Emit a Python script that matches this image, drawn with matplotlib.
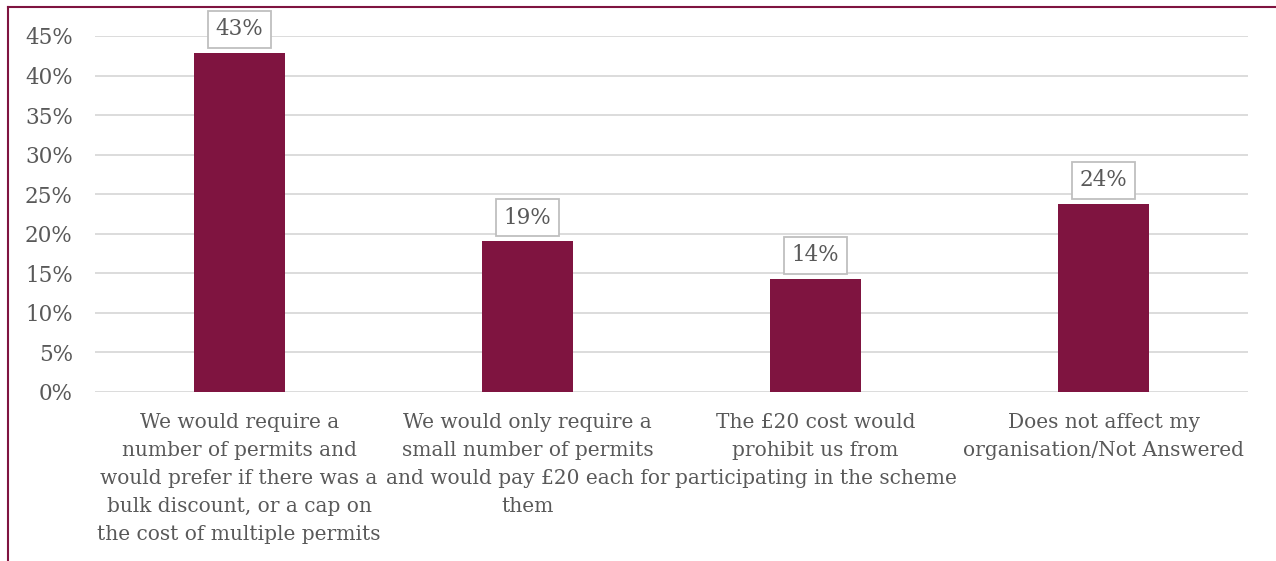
import matplotlib.pyplot as plt
from matplotlib.lines import Line2D

# survey responses on the £20 permit cost (share of respondents)
categories = [
    "We would require a\nnumber of permits and\nwould prefer if there was a\nbulk discount, or a cap on\nthe cost of multiple permits",
    "We would only require a\nsmall number of permits\nand would pay £20 each for\nthem",
    "The £20 cost would\nprohibit us from\nparticipating in the scheme",
    "Does not affect my\norganisation/Not Answered",
]
shares = [42.86, 19.05, 14.29, 23.81]
yticks = [0, 5, 10, 15, 20, 25, 30, 35, 40, 45]

bar_col = '#7F1440'
txt_col = '#595959'

plt.rcParams['font.family'] = ['DejaVu Serif']

fig = plt.figure(figsize=(12.76, 5.61), dpi=100)
ax = fig.add_axes([95/1276, 1 - 392/561, (1248-95)/1276, (392-36)/561])

x = range(len(categories))
ax.bar(x, shares, width=0.316, color=bar_col, zorder=3)

ax.set_xlim(-0.5, len(categories) - 0.5)
ax.set_ylim(0, 45)
ax.set_yticks(yticks)
ax.set_yticklabels([f'{t}%' for t in yticks], fontsize=15.5, color=txt_col)
ax.set_xticks(list(x))
ax.set_xticklabels(categories, fontsize=14.5, color=txt_col, linespacing=1.6)
ax.tick_params(axis='both', length=0)
ax.tick_params(axis='y', pad=16)
ax.tick_params(axis='x', pad=15)
ax.grid(axis='y', color='#D9D9D9', lw=1.3, zorder=0)
for s in ax.spines.values():
    s.set_visible(False)

for i, v in enumerate(shares):
    ax.annotate(f'{v:.0f}%', (i, v), xytext=(0, 9), textcoords='offset points',
                ha='center', va='bottom', fontsize=15.5, color=txt_col,
                bbox=dict(boxstyle='square,pad=0.35', fc='white', ec='#BFBFBF', lw=1.3),
                zorder=5)

# outer frame on the left and top edges
fig.add_artist(Line2D([8/1276, 8/1276], [0, 1 - 7/561], transform=fig.transFigure,
                      color=bar_col, lw=1.5))
fig.add_artist(Line2D([8/1276, 1], [1 - 7/561, 1 - 7/561], transform=fig.transFigure,
                      color=bar_col, lw=1.5))

fig.savefig('out.png', dpi=100)
